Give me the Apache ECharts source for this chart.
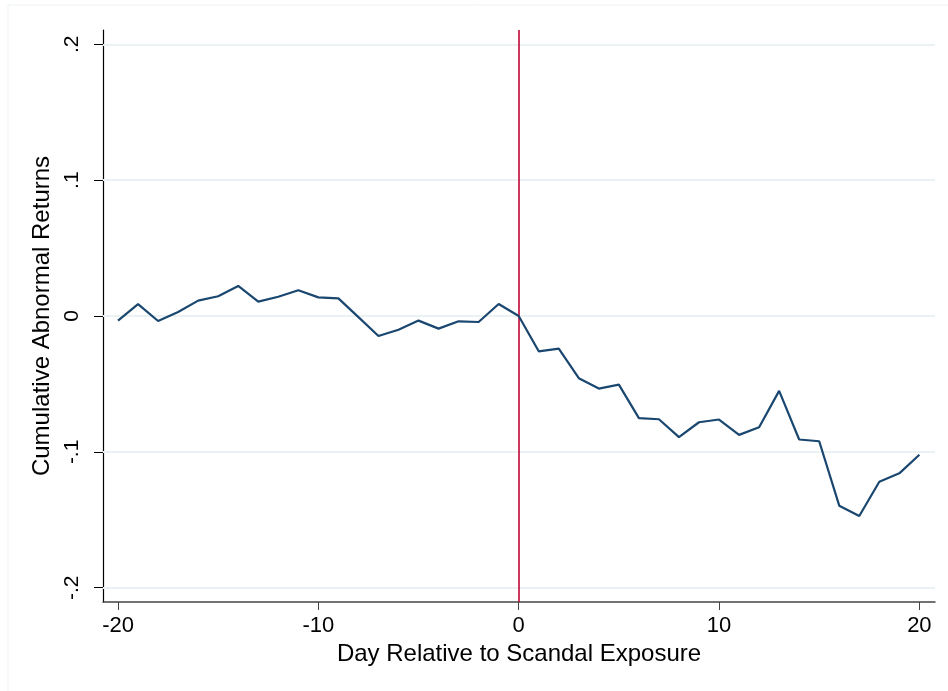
<!DOCTYPE html>
<html>
<head>
<meta charset="utf-8">
<script src="https://cdn.jsdelivr.net/npm/echarts@6/dist/echarts.min.js"></script>
<style>
html,body{margin:0;padding:0;background:#fff;}
#chart{width:948px;height:691px;}
</style>
</head>
<body>
<div id="chart"></div>
<script>
const days = [-20,-19,-18,-17,-16,-15,-14,-13,-12,-11,-10,-9,-8,-7,-6,-5,-4,-3,-2,-1,0,1,2,3,4,5,6,7,8,9,10,11,12,13,14,15,16,17,18,19,20];
const car = [-0.0034,0.0088,-0.0037,0.0029,0.0113,0.0145,0.0221,0.0106,0.0142,0.0189,0.0137,0.0130,-0.0008,-0.0147,-0.0101,-0.0034,-0.0093,-0.0039,-0.0044,0.0088,0.0,
  -0.0260,-0.0240,-0.0458,-0.0534,-0.0505,-0.0752,-0.0760,-0.0892,-0.0782,-0.0762,-0.0875,-0.0819,-0.0551,-0.0909,-0.0922,-0.1396,-0.1472,-0.1220,-0.1158,-0.1021];
const xTicks = [-20,-10,0,10,20];
const yTicks = [-0.2,-0.1,0,0.1,0.2];
const yTickLabels = {'-0.2':'-.2','-0.1':'-.1','0':'0','0.1':'.1','0.2':'.2'};
const eventDay = 0;

const chart = echarts.init(document.getElementById('chart'), null, {renderer:'canvas'});
const font = 'Liberation Sans, Arial, sans-serif';
chart.setOption({
  animation:false,
  backgroundColor:'#ffffff',
  graphic:[{type:'rect',shape:{x:8,y:5,width:1000,height:1000},style:{fill:'none',stroke:'#eef3f3',lineWidth:1},silent:true,z:-1}],
  grid:{left:103,right:13,top:30,bottom:89,containLabel:false},
  xAxis:{
    type:'value',min:-20.75,max:20.78,
    name:'Day Relative to Scandal Exposure',nameLocation:'middle',nameGap:38,
    nameTextStyle:{fontFamily:font,fontSize:24,color:'#000'},
    axisLine:{show:true,onZero:false,lineStyle:{color:'#444',width:1.5}},
    axisTick:{show:true,length:8,customValues:xTicks,lineStyle:{color:'#444',width:1}},
    axisLabel:{customValues:xTicks,margin:13,fontFamily:font,fontSize:22,color:'#000'},
    splitLine:{show:false}
  },
  yAxis:{
    type:'value',min:-0.2105,max:0.2105,
    name:'Cumulative Abnormal Returns',nameLocation:'middle',nameGap:37,
    nameTextStyle:{fontFamily:font,fontSize:24,color:'#000'},
    axisLine:{show:true,onZero:false,lineStyle:{color:'#000',width:1.2}},
    axisTick:{show:true,length:9,customValues:yTicks,lineStyle:{color:'#000',width:1}},
    axisLabel:{customValues:yTicks,rotate:90,margin:20,fontFamily:font,fontSize:21,color:'#000',
      formatter:function(v){const k=String(Math.round(v*10)/10);return yTickLabels[k]!==undefined?yTickLabels[k]:k;}},
    splitLine:{show:false}
  },
  series:[
    {type:'line',data:[],silent:true,z:1,zlevel:0,
     markLine:{silent:true,symbol:'none',label:{show:false},animation:false,z:1,
       lineStyle:{color:'#eaf2f3',width:2,type:'solid'},
       data:yTicks.map(v=>({yAxis:v}))}},
    {type:'line',data:days.map((d,i)=>[d,car[i]]),showSymbol:false,symbol:'none',
     lineStyle:{color:'#1a476f',width:2.2},z:10,
     markLine:{silent:true,symbol:'none',label:{show:false},animation:false,z:9,
       lineStyle:{color:'#c10534',width:1.6,type:'solid'},
       data:[{xAxis:eventDay}]}}
  ]
});
</script>
</body>
</html>
